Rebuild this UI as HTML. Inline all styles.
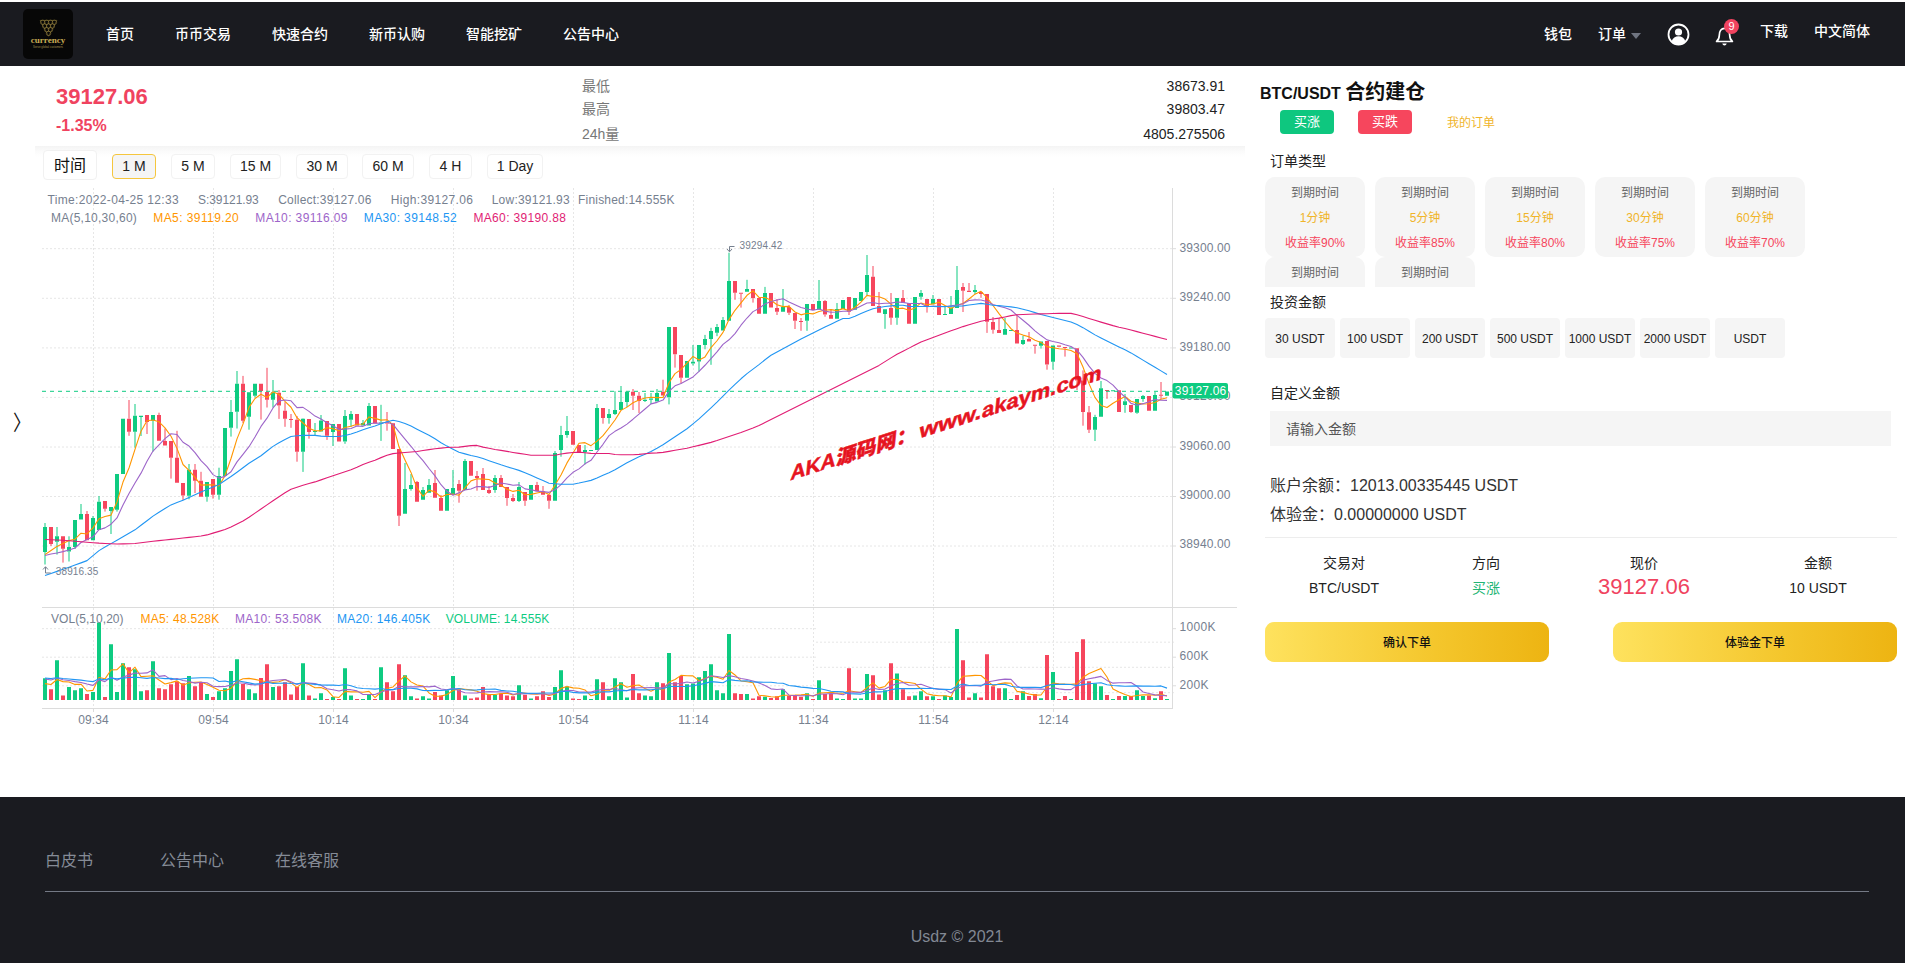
<!DOCTYPE html>
<html lang="zh-CN">
<head>
<meta charset="utf-8">
<title>BTC/USDT 合约建仓</title>
<style>
*{box-sizing:border-box;margin:0;padding:0}
html,body{width:1905px;height:963px;overflow:hidden;background:#fff}
body{position:relative;font-family:"Liberation Sans","Noto Sans CJK SC",sans-serif;color:#222;font-size:14px}
.abs{position:absolute;white-space:nowrap}
#hdr{position:absolute;left:0;top:2px;width:1905px;height:64px;background:#1a1b20}
#logo{position:absolute;left:23px;top:7px;width:50px;height:50px;border-radius:5px;background:#070707;overflow:hidden}
.nav{position:absolute;top:0;height:64px;line-height:64px;color:#fff;font-size:14px;font-weight:500;white-space:nowrap}
.navr{position:absolute;color:#fff;font-size:14px;font-weight:500;white-space:nowrap;line-height:20px}
#price{left:56px;top:83.5px;font-size:22px;font-weight:700;color:#f0435f;line-height:26px}
#chg{left:56px;top:117px;font-size:16px;font-weight:700;color:#f0435f;line-height:18px}
.sl{left:582px;font-size:14px;color:#777;line-height:16px}
.sv{right:680px;font-size:14px;color:#222;line-height:16px}
#shadow{position:absolute;left:35px;top:146px;width:1210px;height:11px;background:linear-gradient(#f4f4f4,#fbfbfb 50%,#fff)}
.tb{position:absolute;top:154px;height:25px;border:1px solid #f2f2f2;border-radius:4px;background:#fff;font-size:14px;line-height:23px;text-align:center;color:#222;white-space:nowrap}
.tb.on{border-color:#f5c63d;background:#f5f5f5}
#tlabel{position:absolute;left:43px;top:150px;width:54px;height:30px;border:1px solid #f1f1f1;border-radius:4px;background:#fff;font-size:16px;line-height:30px;text-align:center;color:#111}
#chev{left:12.5px;top:411.5px;font-size:21px;color:#111;line-height:22px;transform:scaleX(.85);transform-origin:0 0}
/* right panel */
#ttl{left:1260px;top:78.5px;font-size:16px;font-weight:700;color:#111;line-height:26px}
#ttl b{font-size:20px;font-weight:700}
.bbtn{position:absolute;top:110px;width:54px;height:24px;border-radius:4px;color:#fff;font-size:13px;line-height:24px;text-align:center}
.lab{font-size:14px;color:#222;line-height:18px;left:1270px}
.card{position:absolute;width:100px;height:80px;border-radius:10px;background:#f5f5f5;text-align:center;font-size:12px;line-height:25px;padding-top:4px}
.card .a{color:#666}.card .b{color:#f0b429}.card .c{color:#f6465d}
#cards{position:absolute;left:1265px;top:177px;width:640px;height:110px;overflow:hidden}
.amt{position:absolute;top:318px;width:70px;height:40px;border-radius:4px;background:#f5f5f5;font-size:12px;line-height:42px;text-align:center;color:#222;white-space:nowrap}
#inp{position:absolute;left:1270px;top:411px;width:621px;height:35px;background:#f5f5f5;font-size:14px;line-height:37px;padding-left:16px;color:#555}
.bal{left:1270px;font-size:16px;color:#333;line-height:20px}
#div1{position:absolute;left:1265px;top:537px;width:632px;height:1px;background:#ededed}
.th{position:absolute;font-size:14px;color:#222;line-height:18px;width:160px;text-align:center;white-space:nowrap}
.gold{position:absolute;top:622px;width:284px;height:40px;border-radius:9px;background:linear-gradient(90deg,#fee25e,#f4c62c 60%,#edb412);font-size:12px;font-weight:500;color:#111;line-height:42px;text-align:center}
/* footer */
#ftr{position:absolute;left:0;top:797px;width:1905px;height:166px;background:#1a1b20}
.fl{position:absolute;top:54px;font-size:16px;color:#858b96;line-height:20px;white-space:nowrap}
#fline{position:absolute;left:45px;top:94px;width:1824px;height:1px;background:#747985}
#copy{position:absolute;left:0;top:130px;width:1914px;text-align:center;font-size:16px;color:#828893;line-height:20px}
#chart{position:absolute;left:0;top:180px}
#wm{position:absolute;left:0;top:0;font-family:"Liberation Sans","Noto Sans CJK SC",sans-serif}
</style>
</head>
<body>
<div id="hdr">
  <div id="logo">
    <svg width="50" height="50" viewBox="0 0 50 50">
      <g fill="none" stroke="#a08a42" stroke-width="0.6" opacity="0.9"><circle cx="19.7" cy="13.3" r="2.25"/><circle cx="23.6" cy="13.3" r="2.25"/><circle cx="27.5" cy="13.3" r="2.25"/><circle cx="31.4" cy="13.3" r="2.25"/><circle cx="21.65" cy="17.0" r="2.25"/><circle cx="25.55" cy="17.0" r="2.25"/><circle cx="29.45" cy="17.0" r="2.25"/><circle cx="23.6" cy="20.7" r="2.25"/><circle cx="27.5" cy="20.7" r="2.25"/><circle cx="25.55" cy="24.4" r="2.25"/><path d="M17.2 11.400 L33.900 11.400 L25.550 27.200 Z" stroke-width="0.5"/></g>
      <text x="25" y="33.700" text-anchor="middle" font-family="Liberation Serif,serif" font-weight="700" font-size="9.1" fill="#c9ad55">currency</text>
      <text x="25" y="38.500" text-anchor="middle" font-family="Liberation Sans,sans-serif" font-size="2.800" fill="#a8934f" textLength="30">Serve global customers</text>
    </svg>
  </div>
  <div class="nav" style="left:106px">首页</div>
  <div class="nav" style="left:175px">币币交易</div>
  <div class="nav" style="left:272px">快速合约</div>
  <div class="nav" style="left:369px">新币认购</div>
  <div class="nav" style="left:466px">智能挖矿</div>
  <div class="nav" style="left:563px">公告中心</div>
  <div class="navr" style="left:1544px;top:22px">钱包</div>
  <div class="navr" style="left:1598px;top:22px">订单</div>
  <svg class="abs" style="left:1631px;top:31px" width="10" height="6" viewBox="0 0 10 6"><path d="M0 0h10L5 6z" fill="#6f7480"/></svg>
  <svg class="abs" style="left:1667px;top:21px" width="23" height="23" viewBox="0 0 23 23">
    <circle cx="11.5" cy="11.5" r="10" fill="none" stroke="#fff" stroke-width="1.8"/>
    <circle cx="11.5" cy="9" r="3.6" fill="#fff"/>
    <path d="M4.6 18.2c1.2-3.4 3.8-4.9 6.9-4.9s5.700 1.500 6.900 4.900c-1.800 1.900-4.200 3-6.900 3s-5.100-1.100-6.900-3z" fill="#fff"/>
  </svg>
  <svg class="abs" style="left:1714px;top:22px" width="22" height="24" viewBox="0 0 22 24">
    <path d="M2.600 17.500c1.900-1.600 2.700-3.600 2.700-6.300 0-4 2-6.900 5.200-6.900s5.200 2.900 5.200 6.900c0 2.700 0.800 4.700 2.700 6.300z" fill="none" stroke="#fff" stroke-width="1.700" stroke-linejoin="round"/>
    <path d="M8.300 19.400h4.400c-0.300 1.300-1.100 2-2.200 2s-1.900-0.700-2.200-2z" fill="#fff"/>
  </svg>
  <div class="abs" style="left:1724px;top:17px;width:15px;height:15px;border-radius:8px;background:#f0435f;color:#fff;font-size:11px;line-height:15px;text-align:center">9</div>
  <div class="navr" style="left:1760px;top:19px">下载</div>
  <div class="navr" style="left:1814px;top:19px">中文简体</div>
</div>

<div class="abs" id="price">39127.06</div>
<div class="abs" id="chg">-1.35%</div>
<div class="abs sl" style="top:78px">最低</div>
<div class="abs sl" style="top:101px">最高</div>
<div class="abs sl" style="top:126px">24h量</div>
<div class="abs sv" style="top:78px">38673.91</div>
<div class="abs sv" style="top:101px">39803.47</div>
<div class="abs sv" style="top:126px">4805.275506</div>
<div id="shadow"></div>
<div id="tlabel">时间</div>
<div class="tb on" style="left:112px;width:44px">1 M</div>
<div class="tb" style="left:171px;width:44px">5 M</div>
<div class="tb" style="left:230px;width:51px">15 M</div>
<div class="tb" style="left:296px;width:52px">30 M</div>
<div class="tb" style="left:362px;width:52px">60 M</div>
<div class="tb" style="left:429px;width:43px">4 H</div>
<div class="tb" style="left:487px;width:56px">1 Day</div>
<div class="abs" id="chev">〉</div>

<svg id="chart" width="1250" height="560" viewBox="0 180 1250 560" font-family="Liberation Sans, Noto Sans CJK SC, sans-serif" font-size="12">
<path d="M93.5 188V708 M213.5 188V708 M333.5 188V708 M453.5 188V708 M573.5 188V708 M693.5 188V708 M813.5 188V708 M933.5 188V708 M1053.5 188V708 M42 248.7H1172 M42 298.3H1172 M42 347.9H1172 M42 397.4H1172 M42 447H1172 M42 496.5H1172 M42 546H1172" fill="none" stroke="#e6e6e6" stroke-width="1" stroke-dasharray="2 2"/>
<path d="M42 628.7H816 M42 657.2H816 M42 685.8H816 M816 642.2H1174 M816 667.3H1174 M816 692.7H1174" fill="none" stroke="#e6e6e6" stroke-width="1" stroke-dasharray="2 2"/>
<path d="M42 607.5H1237M42 708.5H1173M1172.5 188V708" fill="none" stroke="#dcdcdc" stroke-width="1"/>
<path d="M1173 248.7H1176 M1173 298.3H1176 M1173 347.9H1176 M1173 397.4H1176 M1173 447H1176 M1173 496.5H1176 M1173 546H1176 M1173 628.7H1176 M1173 657.2H1176 M1173 685.8H1176 M93.5 708V712 M213.5 708V712 M333.5 708V712 M453.5 708V712 M573.5 708V712 M693.5 708V712 M813.5 708V712 M933.5 708V712 M1053.5 708V712" fill="none" stroke="#dcdcdc" stroke-width="1"/>
<path d="M45 523V527M45 552V564.5M57 527V536.3M57 541.8V554.6M69 536.3V547M69 551.6V561.5M75 547V549M81 504V514M93 516V518M99 496V501.8M111 511V534M117 509.8V511.6M135 404V415.7M135 431.7V447.7M141 417V436M153 420.7V451.6M189 464V469.8M189 495.8V499.3M207 496.7V501.7M219 467.7V476M219 494.7V499.7M231 400V412M231 427.7V436.6M237 371V383.8M237 411.8V428.5M249 416.8V429.7M255 395.8V397.4M273 380V392.2M273 399.7V407.5M303 418.4V418.8M303 451.8V471.9M315 423V431.05M315 432.05V435M321 415V420.5M333 431.9V446M345 410V416M345 441.6V443.8M351 411V414M351 419.8V427M363 420V423M369 403V406M381 404.8V422.5M381 423.5V440.9M405 463V489M411 474V485M411 489V490.7M423 487V490M429 479V485M453 470V488M465 459V461M495 475V478M495 490V492.8M519 482V487M519 501V502M555 451V453M561 425.9V435M561 449.9V456.7M567 416V431M567 434.9V437.8M585 445V450M585 452V464.4M597 404V408M609 409V414M609 417.9V423.7M615 391.3V410M615 414V415M621 386V402M627 391.3V391.7M627 402V407M645 393V399.7M645 401V402M651 393V398.4M651 399.7V404M657 389V393M669 397.3V404.4M693 345V361.8M693 363.6V365.5M699 361.4V371.7M705 334.9V339M705 345V349.3M711 327.8V331M711 339V364.8M717 324V326.9M717 332.8V336.2M723 317V320M729 252.7V281M747 279.8V289M765 286.9V292.9M783 289V307M807 320.8V330.8M819 280V300.9M837 303V309M867 255V274.9M867 292V295.7M885 313.9V328.8M897 317.8V324.8M921 290V293M921 296.8V299.7M933 295V299M945 307V313.95M951 296V308M957 266V290M975 285V290M975 291.9V294M1005 318V329M1023 335.8V339.9M1023 344V345M1041 345.7V348.6M1053 361.7V369.7M1095 414.8V417M1095 429.8V441M1101 381V388.2M1125 394V401.2M1125 404.9V412.8M1137 412.8V413.8M1143 395V396M1143 399V401.8M1155 392V395" stroke="#0ecb81" stroke-width="1" fill="none"/>
<path d="M51 544V546M63 548.7V562.6M87 511V514M105 508.7V511.6M129 400V418.7M129 431.7V435.8M147 422V434M159 412.7V415M165 428.5V441M171 457.8V478.6M177 430.8V457.8M183 495.5V500M195 464V469.8M195 480.7V493M201 471.8V480.7M213 494.7V498.6M243 375.9V383.8M243 420.7V423M261 391V419.6M267 367.8V392M267 399.7V407.5M279 390V392.7M279 405.6V418.9M285 402.2V410.8M285 418.8V426.8M291 414V419M291 420V427.8M297 416V419.8M297 451.8V461.7M309 431.9V438.7M327 435.8V439.9M387 412V422.5M387 423.5V430.7M399 515.8V526M417 481V482M435 470V483M441 495V498M459 480V484M459 490.7V502.7M477 471V476M477 478V490.7M483 468V474M489 486V490M489 493V494M501 475V478M507 498V505.8M513 494V498M513 501V502M525 500.8V505.9M537 481.9V485M543 486V491.3M549 500.8V508.8M603 417.9V423.7M633 389V391.7M633 395.8V410M639 392V395.8M639 401V413M663 379.7V391.7M675 354.3V367.6M681 377.8V383.4M735 292.7V299.8M741 293.85V307.6M753 297.9V302.6M777 299V308M777 311.8V315M789 305V307M789 312.8V315M795 320.8V329M801 318V320.95M801 321.95V330.8M825 300V300.9M825 314.6V316.7M831 309V314.9M849 311.8V315M873 266V276.8M879 292V305.9M891 293V308M891 317.8V324.8M903 290V298M927 306.9V312.6M963 283V287M963 290.8V312M969 283V290.8M981 294V297.8M987 321.7V332.9M993 317V322M993 329.8V333.7M999 317.8V330M1017 315V330M1029 332V339M1035 345.85V353.7M1047 364.6V369.7M1065 348.1V356.6M1077 380.6V390M1083 370.4V380.6M1083 411.9V425.7M1089 406V412.2M1089 429.8V433M1107 390.9V398.8M1131 412V412.8M1161 382V394.85M1161 395.85V399" stroke="#f6465d" stroke-width="1" fill="none"/>
<path d="M43 527h4V552h-4zM55 536.3h4V541.8h-4zM67 547h4V551.6h-4zM73 520h4V547h-4zM79 514h4V519.6h-4zM91 518h4V540.2h-4zM97 501.8h4V530h-4zM109 507h4V511h-4zM115 474h4V509.8h-4zM121 418.7h4V474h-4zM133 415.7h4V431.7h-4zM139 415.7h4V417h-4zM151 415h4V420.7h-4zM187 469.8h4V495.8h-4zM205 481.9h4V496.7h-4zM217 476h4V494.7h-4zM223 428h4V476h-4zM229 412h4V427.7h-4zM235 383.8h4V411.8h-4zM247 392.2h4V416.8h-4zM253 383.8h4V395.8h-4zM271 392.2h4V399.7h-4zM301 418.8h4V451.8h-4zM313 431.05h4V432.05h-4zM319 420.5h4V431.4h-4zM331 424h4V431.9h-4zM343 416h4V441.6h-4zM349 414h4V419.8h-4zM361 423h4V425.6h-4zM367 406h4V425.6h-4zM379 422.5h4V423.5h-4zM403 489h4V513.8h-4zM409 485h4V489h-4zM421 490h4V499.8h-4zM427 485h4V492.8h-4zM445 489h4V510.8h-4zM451 488h4V495h-4zM463 461h4V490h-4zM493 478h4V490h-4zM517 487h4V501h-4zM529 485h4V499.8h-4zM553 453h4V500.8h-4zM559 435h4V449.9h-4zM565 431h4V434.9h-4zM583 450h4V452h-4zM589 450.05h4V451.05h-4zM595 408h4V449.9h-4zM607 414h4V417.9h-4zM613 410h4V414h-4zM619 402h4V410h-4zM625 391.7h4V402h-4zM643 399.7h4V401h-4zM649 398.4h4V399.7h-4zM655 393h4V401.6h-4zM667 326.9h4V397.3h-4zM685 361h4V377.8h-4zM691 361.8h4V363.6h-4zM697 345h4V361.4h-4zM703 339h4V345h-4zM709 331h4V339h-4zM715 326.9h4V332.8h-4zM721 320h4V330.6h-4zM727 281h4V320.7h-4zM745 289h4V291.7h-4zM763 292.9h4V313.7h-4zM781 307h4V311.8h-4zM805 304h4V320.8h-4zM817 300.9h4V309.4h-4zM835 309h4V318.7h-4zM841 300h4V309h-4zM853 298h4V309.7h-4zM859 292h4V300.9h-4zM865 274.9h4V292h-4zM883 309.2h4V313.9h-4zM895 298h4V317.8h-4zM913 297h4V323.7h-4zM919 293h4V296.8h-4zM931 299h4V304.3h-4zM943 313.95h4V314.95h-4zM949 308h4V313.9h-4zM955 290h4V308h-4zM973 290h4V291.9h-4zM1003 329h4V334.8h-4zM1009 330.05h4V331.05h-4zM1021 339.9h4V344h-4zM1039 341.4h4V345.7h-4zM1051 345.4h4V361.7h-4zM1069 347.6h4V348.6h-4zM1093 417h4V429.8h-4zM1099 388.2h4V416.7h-4zM1111 390.35h4V391.35h-4zM1123 401.2h4V404.9h-4zM1135 399h4V412.8h-4zM1141 396h4V399h-4zM1153 395h4V410.7h-4zM1165 391.6h4V395.7h-4z" fill="#0ecb81"/>
<path d="M49 527h4V544h-4zM61 536.3h4V548.7h-4zM85 514h4V540.2h-4zM103 501h4V508.7h-4zM127 418.7h4V431.7h-4zM145 415h4V422h-4zM157 415h4V440.8h-4zM163 441h4V445.6h-4zM169 441h4V457.8h-4zM175 457.8h4V482.7h-4zM181 483h4V495.5h-4zM193 469.8h4V480.7h-4zM199 480.7h4V496.7h-4zM211 479h4V494.7h-4zM241 383.8h4V420.7h-4zM259 383.8h4V391h-4zM265 392h4V399.7h-4zM277 392.7h4V405.6h-4zM283 410.8h4V418.8h-4zM289 419h4V420h-4zM295 419.8h4V451.8h-4zM307 419h4V431.9h-4zM325 421h4V435.8h-4zM337 424h4V441.6h-4zM355 414h4V425.6h-4zM373 406h4V423.4h-4zM385 422.5h4V423.5h-4zM391 423.2h4V448.9h-4zM397 448.9h4V515.8h-4zM415 482h4V501.7h-4zM433 483h4V497.7h-4zM439 498h4V510.8h-4zM457 484h4V490.7h-4zM469 461h4V475.7h-4zM475 476h4V478h-4zM481 474h4V490h-4zM487 490h4V493h-4zM499 478h4V487h-4zM505 487h4V498h-4zM511 498h4V501h-4zM523 492h4V500.8h-4zM535 485h4V491.3h-4zM541 491.3h4V494.7h-4zM547 494.7h4V500.8h-4zM571 431h4V444.8h-4zM577 445h4V452.4h-4zM601 408h4V417.9h-4zM631 391.7h4V395.8h-4zM637 395.8h4V401h-4zM661 391.7h4V395.4h-4zM673 326.9h4V354.3h-4zM679 354.9h4V377.8h-4zM733 281h4V292.7h-4zM739 292.85h4V293.85h-4zM751 289h4V297.9h-4zM757 297.9h4V313.8h-4zM769 292.9h4V307.6h-4zM775 308h4V311.8h-4zM787 307h4V312.8h-4zM793 313h4V320.8h-4zM799 320.95h4V321.95h-4zM811 304h4V310h-4zM823 300.9h4V314.6h-4zM829 314.9h4V318.7h-4zM847 297h4V311.8h-4zM871 276.8h4V305.9h-4zM877 305.9h4V312.8h-4zM889 308h4V317.8h-4zM901 298h4V303h-4zM907 303h4V323.7h-4zM925 299h4V306.9h-4zM937 299h4V314.9h-4zM961 287h4V290.8h-4zM967 290.8h4V291.9h-4zM979 291.9h4V294h-4zM985 294h4V321.7h-4zM991 322h4V329.8h-4zM997 330h4V332.9h-4zM1015 330h4V343.5h-4zM1027 339h4V341.6h-4zM1033 344.85h4V345.85h-4zM1045 341h4V364.6h-4zM1057 345.4h4V346.7h-4zM1063 347.1h4V348.1h-4zM1075 348.2h4V380.6h-4zM1081 380.6h4V411.9h-4zM1087 412.2h4V429.8h-4zM1105 389.9h4V390.9h-4zM1117 390.3h4V412h-4zM1129 405h4V412h-4zM1147 396h4V410.7h-4zM1159 394.85h4V395.85h-4z" fill="#f6465d"/>
<path d="M45 554.6 L51 550.5 L57 546.4 L63 543.6 L69 540.6 L75 539.2 L81 533.2 L87 533.98 L93 527.84 L99 518.8 L105 516.54 L111 515.14 L117 501.9 L123 482.04 L129 468.02 L135 449.42 L141 431.16 L147 420.76 L153 420.02 L159 421.84 L165 427.82 L171 436.24 L177 448.38 L183 464.48 L189 470.28 L195 477.3 L201 485.08 L207 484.92 L213 484.76 L219 486 L225 475.46 L231 458.52 L237 438.9 L243 424.1 L249 407.34 L255 398.5 L261 394.3 L267 397.48 L273 391.78 L279 394.46 L285 401.46 L291 407.26 L297 417.68 L303 423 L309 428.26 L315 430.74 L321 430.84 L327 427.64 L333 428.68 L339 430.62 L345 427.58 L351 426.28 L357 424.24 L363 424.04 L369 416.92 L375 418.4 L381 420.12 L387 419.68 L393 424.86 L399 446.82 L405 459.94 L411 472.42 L417 488.08 L423 496.3 L429 490.14 L435 491.88 L441 497.04 L447 494.5 L453 494.1 L459 495.24 L465 487.9 L471 480.88 L477 478.68 L483 479.08 L489 479.54 L495 482.94 L501 485.2 L507 489.2 L513 491.4 L519 490.2 L525 494.76 L531 494.36 L537 493.02 L543 491.76 L549 494.52 L555 484.96 L561 474.96 L567 462.9 L573 452.92 L579 443.24 L585 442.64 L591 445.68 L597 441.08 L603 435.7 L609 428.02 L615 420.02 L621 410.38 L627 407.12 L633 402.7 L639 400.1 L645 398.04 L651 397.32 L657 397.58 L663 397.5 L669 382.68 L675 373.6 L681 369.48 L687 363.08 L693 356.36 L699 359.98 L705 356.92 L711 347.56 L717 340.74 L723 332.38 L729 319.58 L735 310.32 L741 302.88 L747 295.3 L753 290.88 L759 297.44 L765 297.48 L771 300.24 L777 304.8 L783 306.62 L789 306.42 L795 312 L801 314.86 L807 313.3 L813 313.9 L819 311.52 L825 310.28 L831 309.64 L837 310.64 L843 308.64 L849 310.82 L855 307.5 L861 302.16 L867 295.34 L873 296.52 L879 296.72 L885 298.96 L891 304.12 L897 308.74 L903 308.16 L909 310.34 L915 307.9 L921 302.94 L927 304.72 L933 303.92 L939 302.16 L945 305.56 L951 308.56 L957 305.18 L963 303.54 L969 298.94 L975 294.14 L981 291.34 L987 297.68 L993 305.48 L999 313.68 L1005 321.48 L1011 328.72 L1017 333.08 L1023 335.1 L1029 336.84 L1035 340.18 L1041 342.42 L1047 346.64 L1053 347.74 L1059 348.76 L1065 349.22 L1071 350.48 L1077 353.68 L1083 366.98 L1089 383.6 L1095 397.4 L1101 405.5 L1107 407.54 L1113 403.26 L1119 399.7 L1125 396.54 L1131 401.3 L1137 402.94 L1143 404.04 L1149 403.78 L1155 402.54 L1161 399.28 L1167 397.8" fill="none" stroke="#ff9600" stroke-width="1.1" stroke-linejoin="round"/>
<path d="M45 555.5 L51 554 L57 553 L63 551.6 L69 550 L75 548 L81 542.5 L87 539.5 L93 536.8 L99 529.7 L105 527.87 L111 524.17 L117 517.94 L123 504.94 L129 493.41 L135 482.98 L141 473.15 L147 461.33 L153 451.03 L159 444.93 L165 438.62 L171 433.7 L177 434.57 L183 442.25 L189 446.06 L195 452.56 L201 460.66 L207 466.65 L213 474.62 L219 478.14 L225 476.38 L231 471.8 L237 461.91 L243 454.43 L249 446.67 L255 436.98 L261 426.41 L267 418.19 L273 407.94 L279 400.9 L285 399.98 L291 400.78 L297 407.58 L303 407.39 L309 411.36 L315 416.1 L321 419.05 L327 422.66 L333 425.84 L339 429.44 L345 429.16 L351 428.56 L357 425.94 L363 426.36 L369 423.77 L375 422.99 L381 423.2 L387 421.96 L393 424.45 L399 431.87 L405 439.17 L411 446.27 L417 453.88 L423 460.58 L429 468.48 L435 475.91 L441 484.73 L447 491.29 L453 495.2 L459 492.69 L465 489.89 L471 488.96 L477 486.59 L483 486.59 L489 487.39 L495 485.42 L501 483.04 L507 483.94 L513 485.24 L519 484.87 L525 488.85 L531 489.78 L537 491.11 L543 491.58 L549 492.36 L555 489.86 L561 484.66 L567 477.96 L573 472.34 L579 468.88 L585 463.8 L591 460.32 L597 451.99 L603 444.31 L609 435.63 L615 431.33 L621 428.03 L627 424.1 L633 419.2 L639 414.06 L645 409.03 L651 403.85 L657 402.35 L663 400.1 L669 391.39 L675 385.82 L681 383.4 L687 380.33 L693 376.93 L699 371.33 L705 365.26 L711 358.52 L717 351.91 L723 344.37 L729 339.78 L735 333.62 L741 325.22 L747 318.02 L753 311.63 L759 308.51 L765 303.9 L771 301.56 L777 300.05 L783 298.75 L789 301.93 L795 304.74 L801 307.55 L807 309.05 L813 310.26 L819 308.97 L825 311.14 L831 312.25 L837 311.97 L843 311.27 L849 311.17 L855 308.89 L861 305.9 L867 302.99 L873 302.58 L879 303.77 L885 303.23 L891 303.14 L897 302.04 L903 302.34 L909 303.53 L915 303.43 L921 303.53 L927 306.73 L933 306.04 L939 306.25 L945 306.73 L951 305.75 L957 304.95 L963 303.73 L969 300.55 L975 299.85 L981 299.95 L987 301.43 L993 304.51 L999 306.31 L1005 307.81 L1011 310.03 L1017 315.38 L1023 320.29 L1029 325.26 L1035 330.83 L1041 335.57 L1047 339.86 L1053 341.42 L1059 342.8 L1065 344.7 L1071 346.45 L1077 350.16 L1083 357.36 L1089 366.18 L1095 373.31 L1101 377.99 L1107 380.61 L1113 385.12 L1119 391.65 L1125 396.97 L1131 403.4 L1137 405.24 L1143 403.65 L1149 401.74 L1155 399.54 L1161 400.29 L1167 400.37" fill="none" stroke="#9d65c9" stroke-width="1.1" stroke-linejoin="round"/>
<path d="M45 575.5 L51 573.44 L57 571.39 L63 569.33 L69 567.18 L75 565.03 L81 562.88 L87 560.63 L93 555.63 L99 550.63 L105 547.09 L111 543.64 L117 540.2 L123 536.76 L129 533.32 L135 529.85 L141 525.27 L147 520.7 L153 516.14 L159 512.31 L165 508.49 L171 504.9 L177 502.53 L183 500.16 L189 497.48 L195 494.78 L201 492.09 L207 489.56 L213 487.03 L219 484.5 L225 480.51 L231 476.53 L237 472.22 L243 467.75 L249 463.31 L255 459.5 L261 455.7 L267 451.03 L273 446.36 L279 442.68 L285 439.5 L291 436.5 L297 435.82 L303 435.4 L309 435.4 L315 435.4 L321 436.17 L327 436.5 L333 436.5 L339 436.5 L345 435.51 L351 434.02 L357 431.96 L363 429.68 L369 427.76 L375 425.91 L381 423.7 L387 421.74 L393 420.3 L399 421.57 L405 423.54 L411 426.11 L417 429.14 L423 432.17 L429 435.19 L435 438.79 L441 442.68 L447 446.11 L453 449.3 L459 452.3 L465 453.9 L471 455.49 L477 456.77 L483 458.58 L489 460.65 L495 462.72 L501 464.82 L507 466.76 L513 468.57 L519 470.38 L525 472.84 L531 475.34 L537 477.92 L543 480.61 L549 483.3 L555 483.81 L561 484.3 L567 484.3 L573 484.3 L579 483.08 L585 481.68 L591 480.37 L597 478.02 L603 475.26 L609 472.7 L615 469.8 L621 466.21 L627 462.79 L633 459.64 L639 456.74 L645 454.15 L651 451.45 L657 448.18 L663 444.67 L669 440.68 L675 436.68 L681 432.69 L687 428.7 L693 423.86 L699 418.89 L705 413.35 L711 407.81 L717 402.1 L723 396.1 L729 390.1 L735 384.42 L741 378.78 L747 373.6 L753 369.09 L759 364.58 L765 359.8 L771 355.26 L777 352.04 L783 348.81 L789 345.56 L795 342.32 L801 339.07 L807 336.05 L813 333.05 L819 330.05 L825 327.11 L831 324.24 L837 321.37 L843 318.5 L849 318.5 L855 316.34 L861 313.59 L867 311.04 L873 308.67 L879 307.46 L885 306.56 L891 305.89 L897 305.22 L903 305.23 L909 306.4 L915 306.44 L921 306.47 L927 306.51 L933 306.54 L939 306.58 L945 306.51 L951 306.31 L957 306.1 L963 305.9 L969 305.07 L975 304.24 L981 303.41 L987 304.18 L993 305.2 L999 305.65 L1005 306.22 L1011 306.84 L1017 307.82 L1023 309.31 L1029 310.8 L1035 312.61 L1041 314.42 L1047 316.05 L1053 317.55 L1059 319.04 L1065 320.51 L1071 321.98 L1077 324.59 L1083 327.64 L1089 331.19 L1095 334.88 L1101 338.02 L1107 341.04 L1113 344.02 L1119 346.94 L1125 349.86 L1131 352.9 L1137 356.5 L1143 360.1 L1149 363.7 L1155 367.3 L1161 370.9 L1167 374.5" fill="none" stroke="#2196f3" stroke-width="1.1" stroke-linejoin="round"/>
<path d="M45 539.5 L51 539.74 L57 539.97 L63 540.22 L69 540.75 L75 541.27 L81 541.8 L87 542.26 L93 542.71 L99 543.17 L105 543.45 L111 543.73 L117 544 L123 543.87 L129 543.73 L135 543.57 L141 542.81 L147 542.05 L153 541.29 L159 540.66 L165 540.03 L171 539.39 L177 538.72 L183 538.06 L189 537.38 L195 536.68 L201 535.97 L207 534.91 L213 533.14 L219 531.36 L225 529.59 L231 527 L237 524 L243 521 L249 517.26 L255 513.15 L261 509.04 L267 504.92 L273 500.8 L279 496.69 L285 492.8 L291 489.26 L297 487.23 L303 485.2 L309 483.55 L315 481.9 L321 479.87 L327 477.83 L333 475.74 L339 473.67 L345 471.71 L351 469.76 L357 467.22 L363 464.46 L369 462.25 L375 460.15 L381 457.62 L387 455.34 L393 453.61 L399 453.04 L405 452.53 L411 452 L417 451.44 L423 450.54 L429 449.64 L435 448.74 L441 448.11 L447 447.48 L453 447.27 L459 447.12 L465 446.39 L471 445.59 L477 445.42 L483 447.1 L489 448.3 L495 449.43 L501 450.37 L507 451.36 L513 452.42 L519 453.37 L525 454.29 L531 455.21 L537 455.3 L543 455.3 L549 455.3 L555 455.3 L561 454.04 L567 453.15 L573 452.52 L579 452.1 L585 452.71 L591 453.33 L597 453.5 L603 453.5 L609 453.5 L615 454.5 L621 454.7 L627 454.7 L633 454.7 L639 454.38 L645 453.74 L651 453.15 L657 452.88 L663 452.36 L669 451.35 L675 450.33 L681 449.32 L687 448.3 L693 446.82 L699 445.35 L705 443.87 L711 442.39 L717 440.59 L723 438.58 L729 436.56 L735 434.55 L741 432.48 L747 430.24 L753 427.99 L759 425.51 L765 422.52 L771 419.54 L777 416.55 L783 413.55 L789 410.55 L795 407.55 L801 404.55 L807 401.55 L813 398.55 L819 395.55 L825 392.55 L831 389.54 L837 386.53 L843 383.52 L849 380.51 L855 377.49 L861 374.47 L867 371.45 L873 368.42 L879 365.4 L885 361.64 L891 357.88 L897 354.28 L903 351.2 L909 348.12 L915 345.04 L921 341.96 L927 339.64 L933 337.39 L939 335.14 L945 332.95 L951 330.83 L957 328.72 L963 326.6 L969 324.81 L975 323.02 L981 321.23 L987 319.93 L993 319.04 L999 318.15 L1005 316.93 L1011 315.65 L1017 314.8 L1023 314.54 L1029 314.29 L1035 314.04 L1041 313.86 L1047 313.7 L1053 313.54 L1059 313.4 L1065 313.4 L1071 313.4 L1077 314.72 L1083 316.57 L1089 318.42 L1095 320.29 L1101 322.15 L1107 323.9 L1113 325.63 L1119 327.19 L1125 328.56 L1131 329.97 L1137 331.61 L1143 333.22 L1149 334.79 L1155 336.36 L1161 337.93 L1167 339.5" fill="none" stroke="#e11d74" stroke-width="1.1" stroke-linejoin="round"/>
<path d="M43 678.3h4V700h-4zM55 660.2h4V700h-4zM67 687.1h4V700h-4zM73 690.2h4V700h-4zM79 688.2h4V700h-4zM91 692.1h4V700h-4zM97 622.6h4V700h-4zM109 644.2h4V700h-4zM115 692.1h4V700h-4zM121 663.3h4V700h-4zM133 669.2h4V700h-4zM139 691.2h4V700h-4zM151 661.3h4V700h-4zM187 676.1h4V700h-4zM205 694.1h4V700h-4zM217 691.2h4V700h-4zM223 688.2h4V700h-4zM229 671.1h4V700h-4zM235 659.3h4V700h-4zM247 689.2h4V700h-4zM253 693.2h4V700h-4zM271 687.1h4V700h-4zM301 663.3h4V700h-4zM313 698.4h4V700h-4zM319 693.2h4V700h-4zM331 697.1h4V700h-4zM343 668.2h4V700h-4zM349 695.4h4V700h-4zM361 699h4V700h-4zM367 694.8h4V700h-4zM379 667.2h4V700h-4zM403 675.3h4V700h-4zM409 696.3h4V700h-4zM421 696.3h4V700h-4zM427 698.4h4V700h-4zM445 690.2h4V700h-4zM451 676.1h4V700h-4zM463 695.4h4V700h-4zM493 694.8h4V700h-4zM517 685.3h4V700h-4zM529 698.4h4V700h-4zM553 687.1h4V700h-4zM559 670.2h4V700h-4zM565 686.6h4V700h-4zM583 695.4h4V700h-4zM589 699h4V700h-4zM595 679.3h4V700h-4zM607 696.3h4V700h-4zM613 678.2h4V700h-4zM619 682.3h4V700h-4zM625 697.4h4V700h-4zM643 695.4h4V700h-4zM649 696.3h4V700h-4zM655 682.3h4V700h-4zM667 653.1h4V700h-4zM685 684.3h4V700h-4zM691 683.6h4V700h-4zM697 677.3h4V700h-4zM703 671.1h4V700h-4zM709 664.2h4V700h-4zM715 690.2h4V700h-4zM721 693.2h4V700h-4zM727 634.1h4V700h-4zM745 694.1h4V700h-4zM763 696.7h4V700h-4zM781 689.2h4V700h-4zM805 693.2h4V700h-4zM817 680.3h4V700h-4zM835 698.4h4V700h-4zM841 699h4V700h-4zM853 698.4h4V700h-4zM859 698.4h4V700h-4zM865 674.1h4V700h-4zM883 690.2h4V700h-4zM895 673.4h4V700h-4zM913 695.4h4V700h-4zM919 691.2h4V700h-4zM931 696.3h4V700h-4zM943 695.4h4V700h-4zM949 697.1h4V700h-4zM955 629.1h4V700h-4zM973 693.2h4V700h-4zM1003 688.2h4V700h-4zM1009 699h4V700h-4zM1021 691.2h4V700h-4zM1039 698.3h4V700h-4zM1051 672h4V700h-4zM1069 699h4V700h-4zM1093 683.6h4V700h-4zM1099 686.2h4V700h-4zM1111 699h4V700h-4zM1123 696.1h4V700h-4zM1135 690.2h4V700h-4zM1141 696.1h4V700h-4zM1153 698.3h4V700h-4zM1165 699h4V700h-4z" fill="#0ecb81"/>
<path d="M49 689.2h4V700h-4zM61 695.4h4V700h-4zM85 694.1h4V700h-4zM103 697.1h4V700h-4zM127 667.2h4V700h-4zM145 690.2h4V700h-4zM157 688.2h4V700h-4zM163 689.2h4V700h-4zM169 684.3h4V700h-4zM175 681.4h4V700h-4zM181 683.2h4V700h-4zM193 686.2h4V700h-4zM199 683h4V700h-4zM211 697.1h4V700h-4zM241 684h4V700h-4zM259 678.1h4V700h-4zM265 664.2h4V700h-4zM277 686.2h4V700h-4zM283 682.3h4V700h-4zM289 694.4h4V700h-4zM295 687.1h4V700h-4zM307 695.4h4V700h-4zM325 699h4V700h-4zM337 699h4V700h-4zM355 699h4V700h-4zM373 699h4V700h-4zM385 682.3h4V700h-4zM391 691.2h4V700h-4zM397 664.2h4V700h-4zM415 698.4h4V700h-4zM433 692.1h4V700h-4zM439 695.4h4V700h-4zM457 689.2h4V700h-4zM469 698.4h4V700h-4zM475 697.4h4V700h-4zM481 687.1h4V700h-4zM487 694.8h4V700h-4zM499 693.4h4V700h-4zM505 695.4h4V700h-4zM511 696.3h4V700h-4zM523 694.8h4V700h-4zM535 696.3h4V700h-4zM541 691.2h4V700h-4zM547 697.1h4V700h-4zM571 698.4h4V700h-4zM577 699h4V700h-4zM601 682.3h4V700h-4zM631 674.1h4V700h-4zM637 693.2h4V700h-4zM661 683.2h4V700h-4zM673 682.3h4V700h-4zM679 676.1h4V700h-4zM733 693.2h4V700h-4zM739 694.1h4V700h-4zM751 698.4h4V700h-4zM757 696.3h4V700h-4zM769 698h4V700h-4zM775 696.3h4V700h-4zM787 696.1h4V700h-4zM793 696.1h4V700h-4zM799 696.7h4V700h-4zM811 699h4V700h-4zM823 694.1h4V700h-4zM829 694.1h4V700h-4zM847 668.2h4V700h-4zM871 675.3h4V700h-4zM877 694.4h4V700h-4zM889 663.3h4V700h-4zM901 689.2h4V700h-4zM907 696.3h4V700h-4zM925 696.3h4V700h-4zM937 699h4V700h-4zM961 660.2h4V700h-4zM967 697.4h4V700h-4zM979 697.4h4V700h-4zM985 654.3h4V700h-4zM991 686.2h4V700h-4zM997 688.2h4V700h-4zM1015 695.1h4V700h-4zM1027 696.1h4V700h-4zM1033 694.1h4V700h-4zM1045 655.1h4V700h-4zM1057 699h4V700h-4zM1063 696.1h4V700h-4zM1075 652.1h4V700h-4zM1081 639.2h4V700h-4zM1087 681.2h4V700h-4zM1105 695.1h4V700h-4zM1117 696.1h4V700h-4zM1129 696.1h4V700h-4zM1147 695.4h4V700h-4zM1159 691.2h4V700h-4z" fill="#f6465d"/>
<path d="M45 683.66 L51 684.5 L57 679.54 L63 681.62 L69 682.04 L75 684.42 L81 684.22 L87 691 L93 690.34 L99 677.44 L105 678.82 L111 670.02 L117 669.62 L123 663.86 L129 672.78 L135 667.2 L141 676.6 L147 676.22 L153 675.82 L159 680.02 L165 684.02 L171 682.64 L177 680.88 L183 685.26 L189 682.84 L195 682.24 L201 681.98 L207 684.52 L213 687.3 L219 690.32 L225 690.72 L231 688.34 L237 681.38 L243 678.76 L249 678.36 L255 679.36 L261 680.76 L267 681.74 L273 682.36 L279 681.76 L285 679.58 L291 682.84 L297 687.42 L303 682.66 L309 684.5 L315 687.72 L321 687.48 L327 689.92 L333 696.68 L339 697.46 L345 691.42 L351 691.86 L357 691.86 L363 692.3 L369 691.4 L375 697.62 L381 691.98 L387 688.58 L393 686.96 L399 680.84 L405 676.04 L411 681.86 L417 685.08 L423 686.1 L429 692.94 L435 696.3 L441 696.12 L447 694.48 L453 690.44 L459 688.6 L465 689.26 L471 689.86 L477 691.3 L483 693.5 L489 694.62 L495 694.5 L501 693.5 L507 693.1 L513 694.94 L519 693.04 L525 693.04 L531 694.04 L537 694.22 L543 693.2 L549 695.56 L555 694.02 L561 688.38 L567 686.44 L573 687.88 L579 688.32 L585 689.98 L591 695.8 L597 694.34 L603 691.12 L609 690.52 L615 687.08 L621 683.68 L627 687.3 L633 685.66 L639 685.04 L645 688.48 L651 691.28 L657 688.26 L663 690.08 L669 682.06 L675 679.44 L681 675.4 L687 675.8 L693 675.88 L699 680.72 L705 678.48 L711 676.1 L717 677.28 L723 679.2 L729 670.56 L735 674.98 L741 680.96 L747 681.74 L753 682.78 L759 695.22 L765 695.92 L771 696.7 L777 697.14 L783 695.3 L789 695.26 L795 695.14 L801 694.88 L807 694.26 L813 696.28 L819 693.12 L825 692.72 L831 692.2 L837 693.24 L843 693.24 L849 690.82 L855 691.68 L861 692.54 L867 687.68 L873 682.88 L879 688.12 L885 686.48 L891 679.46 L897 679.32 L903 682.1 L909 682.48 L915 683.52 L921 689.1 L927 693.68 L933 695.1 L939 695.7 L945 695.7 L951 696.88 L957 683.44 L963 676.22 L969 675.84 L975 675.4 L981 675.46 L987 680.5 L993 685.7 L999 683.86 L1005 682.86 L1011 683.24 L1017 691.4 L1023 692.4 L1029 693.98 L1035 695.16 L1041 694.96 L1047 686.96 L1053 683.12 L1059 683.76 L1065 684.16 L1071 684.36 L1077 683.76 L1083 677.2 L1089 673.58 L1095 671.08 L1101 668.46 L1107 677.06 L1113 689.08 L1119 692.06 L1125 694.56 L1131 696.54 L1137 695.56 L1143 694.92 L1149 694.78 L1155 695.22 L1161 694.24 L1167 696.06" fill="none" stroke="#ff9600" stroke-width="1.1" stroke-linejoin="round"/>
<path d="M45 678.93 L51 679.95 L57 678.07 L63 679.71 L69 680.52 L75 681.64 L81 682.56 L87 684.07 L93 685.38 L99 679.74 L105 681.62 L111 677.12 L117 680.31 L123 677.1 L129 675.11 L135 673.01 L141 673.31 L147 672.92 L153 669.84 L159 676.4 L165 675.61 L171 679.62 L177 678.55 L183 680.54 L189 681.43 L195 683.13 L201 682.31 L207 682.7 L213 686.28 L219 686.58 L225 686.48 L231 685.16 L237 682.95 L243 683.03 L249 684.34 L255 685.04 L261 684.55 L267 681.56 L273 680.56 L279 680.06 L285 679.47 L291 681.8 L297 684.58 L303 682.51 L309 683.13 L315 683.65 L321 685.16 L327 688.67 L333 689.67 L339 690.98 L345 689.57 L351 689.67 L357 690.89 L363 694.49 L369 694.43 L375 694.52 L381 691.92 L387 690.22 L393 689.63 L399 686.12 L405 686.83 L411 686.92 L417 686.83 L423 686.53 L429 686.89 L435 686.17 L441 688.99 L447 689.78 L453 688.27 L459 690.77 L465 692.78 L471 692.99 L477 692.89 L483 691.97 L489 691.61 L495 691.88 L501 691.68 L507 692.2 L513 694.22 L519 693.83 L525 693.77 L531 693.77 L537 693.66 L543 694.07 L549 694.3 L555 693.53 L561 691.21 L567 690.33 L573 690.54 L579 691.94 L585 692 L591 692.09 L597 690.39 L603 689.5 L609 689.42 L615 688.53 L621 689.74 L627 690.82 L633 688.39 L639 687.78 L645 687.78 L651 687.48 L657 687.78 L663 687.87 L669 683.55 L675 683.96 L681 683.34 L687 682.03 L693 682.98 L699 681.39 L705 678.96 L711 675.75 L717 676.54 L723 677.54 L729 675.64 L735 676.73 L741 678.53 L747 679.51 L753 680.99 L759 682.89 L765 685.45 L771 688.83 L777 689.44 L783 689.04 L789 695.24 L795 695.53 L801 695.79 L807 695.7 L813 695.79 L819 694.19 L825 693.93 L831 693.54 L837 693.75 L843 694.76 L849 691.97 L855 692.2 L861 692.37 L867 690.46 L873 688.06 L879 689.47 L885 689.08 L891 686 L897 683.5 L903 682.49 L909 685.3 L915 685 L921 684.28 L927 686.5 L933 688.6 L939 689.09 L945 689.61 L951 692.99 L957 688.56 L963 685.66 L969 685.77 L975 685.55 L981 686.17 L987 681.97 L993 680.96 L999 679.85 L1005 679.13 L1011 679.35 L1017 685.95 L1023 689.05 L1029 688.92 L1035 689.01 L1041 689.1 L1047 689.18 L1053 687.76 L1059 688.87 L1065 689.66 L1071 689.66 L1077 685.36 L1083 680.16 L1089 678.67 L1095 677.62 L1101 676.41 L1107 680.41 L1113 683.14 L1119 682.82 L1125 682.82 L1131 682.5 L1137 686.31 L1143 692 L1149 693.42 L1155 694.89 L1161 695.39 L1167 695.81" fill="none" stroke="#9d65c9" stroke-width="1.1" stroke-linejoin="round"/>
<path d="M45 678.01 L51 678.58 L57 677.68 L63 678.55 L69 679.01 L75 679.62 L81 680.13 L87 680.93 L93 681.64 L99 678.87 L105 679.83 L111 678.13 L117 678.84 L123 678.11 L129 677.57 L135 677.12 L141 677.78 L147 678.39 L153 677.56 L159 678.07 L165 678.62 L171 678.37 L177 679.43 L183 678.82 L189 678.27 L195 678.07 L201 677.81 L207 677.81 L213 678.06 L219 681.49 L225 681.04 L231 682.39 L237 680.75 L243 681.78 L249 682.88 L255 684.09 L261 683.43 L267 682.13 L273 683.42 L279 683.32 L285 682.98 L291 683.48 L297 683.76 L303 682.77 L309 683.74 L315 684.35 L321 684.86 L327 685.12 L333 685.12 L339 685.52 L345 684.52 L351 685.74 L357 687.74 L363 688.5 L369 688.78 L375 689.09 L381 688.54 L387 689.45 L393 689.65 L399 688.55 L405 688.2 L411 688.29 L417 688.86 L423 690.51 L429 690.66 L435 690.35 L441 690.46 L447 690 L453 688.95 L459 688.45 L465 689.8 L471 689.96 L477 689.86 L483 689.25 L489 689.25 L495 689.02 L501 690.34 L507 690.99 L513 691.25 L519 692.3 L525 693.27 L531 693.38 L537 693.27 L543 693.02 L549 692.96 L555 692.71 L561 691.45 L567 691.26 L573 692.38 L579 692.88 L585 692.88 L591 692.93 L597 692.02 L603 691.78 L609 691.86 L615 691.03 L621 690.48 L627 690.58 L633 689.47 L639 689.86 L645 689.89 L651 689.78 L657 689.09 L663 688.68 L669 686.49 L675 686.25 L681 686.54 L687 686.42 L693 685.68 L699 684.59 L705 683.37 L711 681.62 L717 682.16 L723 682.71 L729 679.6 L735 680.35 L741 680.93 L747 680.77 L753 681.99 L759 682.14 L765 682.21 L771 682.29 L777 682.99 L783 683.29 L789 685.44 L795 686.13 L801 687.16 L807 687.61 L813 688.39 L819 688.54 L825 689.69 L831 691.18 L837 691.6 L843 691.9 L849 693.61 L855 693.87 L861 694.08 L867 693.08 L873 691.92 L879 691.83 L885 691.5 L891 689.77 L897 688.62 L903 688.62 L909 688.63 L915 688.6 L921 688.33 L927 688.48 L933 688.33 L939 689.28 L945 689.35 L951 689.5 L957 686.03 L963 684.08 L969 685.53 L975 685.27 L981 685.23 L987 684.24 L993 684.78 L999 684.47 L1005 684.37 L1011 686.17 L1017 687.25 L1023 687.36 L1029 687.35 L1035 687.28 L1041 687.63 L1047 685.58 L1053 684.36 L1059 684.36 L1065 684.39 L1071 684.5 L1077 685.65 L1083 684.61 L1089 683.79 L1095 683.32 L1101 682.75 L1107 684.79 L1113 685.45 L1119 685.85 L1125 686.24 L1131 686.08 L1137 685.84 L1143 686.08 L1149 686.04 L1155 686.25 L1161 685.9 L1167 688.11" fill="none" stroke="#2196f3" stroke-width="1.1" stroke-linejoin="round"/>
<path d="M42 391.3H1172" stroke="#0ecb81" stroke-width="1" stroke-dasharray="4 4" fill="none"/>
<text x="1179.5" y="252.4" fill="#76808f" textLength="51">39300.00</text>
<text x="1179.5" y="301.1" fill="#76808f" textLength="51">39240.00</text>
<text x="1179.5" y="351" fill="#76808f" textLength="51">39180.00</text>
<text x="1179.5" y="400.3" fill="#76808f" textLength="51">39120.00</text>
<text x="1179.5" y="450.1" fill="#76808f" textLength="51">39060.00</text>
<text x="1179.5" y="499.1" fill="#76808f" textLength="51">39000.00</text>
<text x="1179.5" y="548.3" fill="#76808f" textLength="51">38940.00</text>
<text x="1179.5" y="631.3" fill="#76808f" textLength="36">1000K</text>
<text x="1179.5" y="660.3" fill="#76808f" textLength="29">600K</text>
<text x="1179.5" y="689.3" fill="#76808f" textLength="29">200K</text>
<rect x="1172.5" y="383" width="55.5" height="15.5" rx="2" fill="#0ecb81"/>
<text x="1174.8" y="394.6" fill="#fff" textLength="51.5">39127.06</text>
<text x="93.5" y="724" fill="#76808f" textLength="30.5" text-anchor="middle">09:34</text>
<text x="213.5" y="724" fill="#76808f" textLength="30.5" text-anchor="middle">09:54</text>
<text x="333.5" y="724" fill="#76808f" textLength="30.5" text-anchor="middle">10:14</text>
<text x="453.5" y="724" fill="#76808f" textLength="30.5" text-anchor="middle">10:34</text>
<text x="573.5" y="724" fill="#76808f" textLength="30.5" text-anchor="middle">10:54</text>
<text x="693.5" y="724" fill="#76808f" textLength="30.5" text-anchor="middle">11:14</text>
<text x="813.5" y="724" fill="#76808f" textLength="30.5" text-anchor="middle">11:34</text>
<text x="933.5" y="724" fill="#76808f" textLength="30.5" text-anchor="middle">11:54</text>
<text x="1053.5" y="724" fill="#76808f" textLength="30.5" text-anchor="middle">12:14</text>
<text x="47.5" y="203.7" fill="#76808f" textLength="131.1">Time:2022-04-25 12:33</text>
<text x="198" y="203.7" fill="#76808f" textLength="60.8">S:39121.93</text>
<text x="278.2" y="203.7" fill="#76808f" textLength="93.2">Collect:39127.06</text>
<text x="390.7" y="203.7" fill="#76808f" textLength="82.3">High:39127.06</text>
<text x="491.7" y="203.7" fill="#76808f" textLength="77.9">Low:39121.93</text>
<text x="578" y="203.7" fill="#76808f" textLength="96.4">Finished:14.555K</text>
<text x="51" y="221.7" fill="#76808f" textLength="85.8">MA(5,10,30,60)</text>
<text x="153.3" y="221.7" fill="#ff9600" textLength="85.5">MA5: 39119.20</text>
<text x="255.3" y="221.7" fill="#9d65c9" textLength="92.2">MA10: 39116.09</text>
<text x="363.8" y="221.7" fill="#2196f3" textLength="93">MA30: 39148.52</text>
<text x="473.4" y="221.7" fill="#e11d74" textLength="92.6">MA60: 39190.88</text>
<text x="51" y="622.7" fill="#76808f" textLength="72.6">VOL(5,10,20)</text>
<text x="140.4" y="622.7" fill="#ff9600" textLength="78.9">MA5: 48.528K</text>
<text x="235" y="622.7" fill="#9d65c9" textLength="86.5">MA10: 53.508K</text>
<text x="337" y="622.7" fill="#2196f3" textLength="93.3">MA20: 146.405K</text>
<text x="445.7" y="622.7" fill="#0ecb81" textLength="103.5">VOLUME: 14.555K</text>
<path d="M729.5 251.5V246.5H734.5M727 249L729.5 251.8L732 249" fill="none" stroke="#76808f" stroke-width="1"/>
<text x="739.4" y="248.6" fill="#76808f" textLength="43" font-size="10">39294.42</text>
<path d="M45.5 567V573H50.8M43 569.5L45.5 566.7L48 569.5" fill="none" stroke="#76808f" stroke-width="1"/>
<text x="55.8" y="575" fill="#76808f" textLength="42.5" font-size="10">38916.35</text>
<g transform="matrix(1,-0.325,-0.1,1,790,480.5)" font-weight="700" fill="#e6141f" stroke="#e6141f" stroke-width="0.5"><text x="0" y="0" font-size="21" textLength="45" lengthAdjust="spacingAndGlyphs">AKA</text><text x="46" y="0" font-size="20" font-weight="900" textLength="80" lengthAdjust="spacing">源码网：</text><text x="129" y="0" font-size="21" textLength="62" lengthAdjust="spacingAndGlyphs">www.</text><text x="191.5" y="0" font-size="21" textLength="119.5" lengthAdjust="spacingAndGlyphs">akaym.com</text></g>
</svg>

<div class="abs" id="ttl">BTC/USDT <b>合约建仓</b></div>
<div class="bbtn" style="left:1280px;background:#0ec77f">买涨</div>
<div class="bbtn" style="left:1358px;background:#f6465d">买跌</div>
<div class="abs" style="left:1447px;top:113.5px;font-size:12px;line-height:18px;color:#f0b429">我的订单</div>
<div class="abs lab" style="top:152px">订单类型</div>
<div id="cards">
  <div class="card" style="left:0;top:0"><div class="a">到期时间</div><div class="b">1分钟</div><div class="c">收益率90%</div></div>
  <div class="card" style="left:110px;top:0"><div class="a">到期时间</div><div class="b">5分钟</div><div class="c">收益率85%</div></div>
  <div class="card" style="left:220px;top:0"><div class="a">到期时间</div><div class="b">15分钟</div><div class="c">收益率80%</div></div>
  <div class="card" style="left:330px;top:0"><div class="a">到期时间</div><div class="b">30分钟</div><div class="c">收益率75%</div></div>
  <div class="card" style="left:440px;top:0"><div class="a">到期时间</div><div class="b">60分钟</div><div class="c">收益率70%</div></div>
  <div class="card" style="left:0;top:80px"><div class="a">到期时间</div><div class="b">120分钟</div><div class="c">收益率65%</div></div>
  <div class="card" style="left:110px;top:80px"><div class="a">到期时间</div><div class="b">1天</div><div class="c">收益率60%</div></div>
</div>
<div class="abs lab" style="top:293px">投资金额</div>
<div class="amt" style="left:1265px">30 USDT</div>
<div class="amt" style="left:1340px">100 USDT</div>
<div class="amt" style="left:1415px">200 USDT</div>
<div class="amt" style="left:1490px">500 USDT</div>
<div class="amt" style="left:1565px">1000 USDT</div>
<div class="amt" style="left:1640px">2000 USDT</div>
<div class="amt" style="left:1715px">USDT</div>
<div class="abs lab" style="top:384px">自定义金额</div>
<div id="inp">请输入金额</div>
<div class="abs bal" style="top:476px">账户余额：12013.00335445 USDT</div>
<div class="abs bal" style="top:505px">体验金：0.00000000 USDT</div>
<div id="div1"></div>
<div class="th" style="left:1264px;top:554px">交易对</div>
<div class="th" style="left:1264px;top:579px">BTC/USDT</div>
<div class="th" style="left:1406px;top:554px">方向</div>
<div class="th" style="left:1406px;top:579px;color:#22b573">买涨</div>
<div class="th" style="left:1564px;top:554px">现价</div>
<div class="th" style="left:1564px;top:574px;font-size:22px;line-height:26px;color:#f0435f">39127.06</div>
<div class="th" style="left:1738px;top:554px">金额</div>
<div class="th" style="left:1738px;top:579px">10 USDT</div>
<div class="gold" style="left:1265px">确认下单</div>
<div class="gold" style="left:1613px">体验金下单</div>

<div id="ftr">
  <div class="fl" style="left:45px">白皮书</div>
  <div class="fl" style="left:160px">公告中心</div>
  <div class="fl" style="left:275px">在线客服</div>
  <div id="fline"></div>
  <div id="copy">Usdz © 2021</div>
</div>
</body>
</html>
